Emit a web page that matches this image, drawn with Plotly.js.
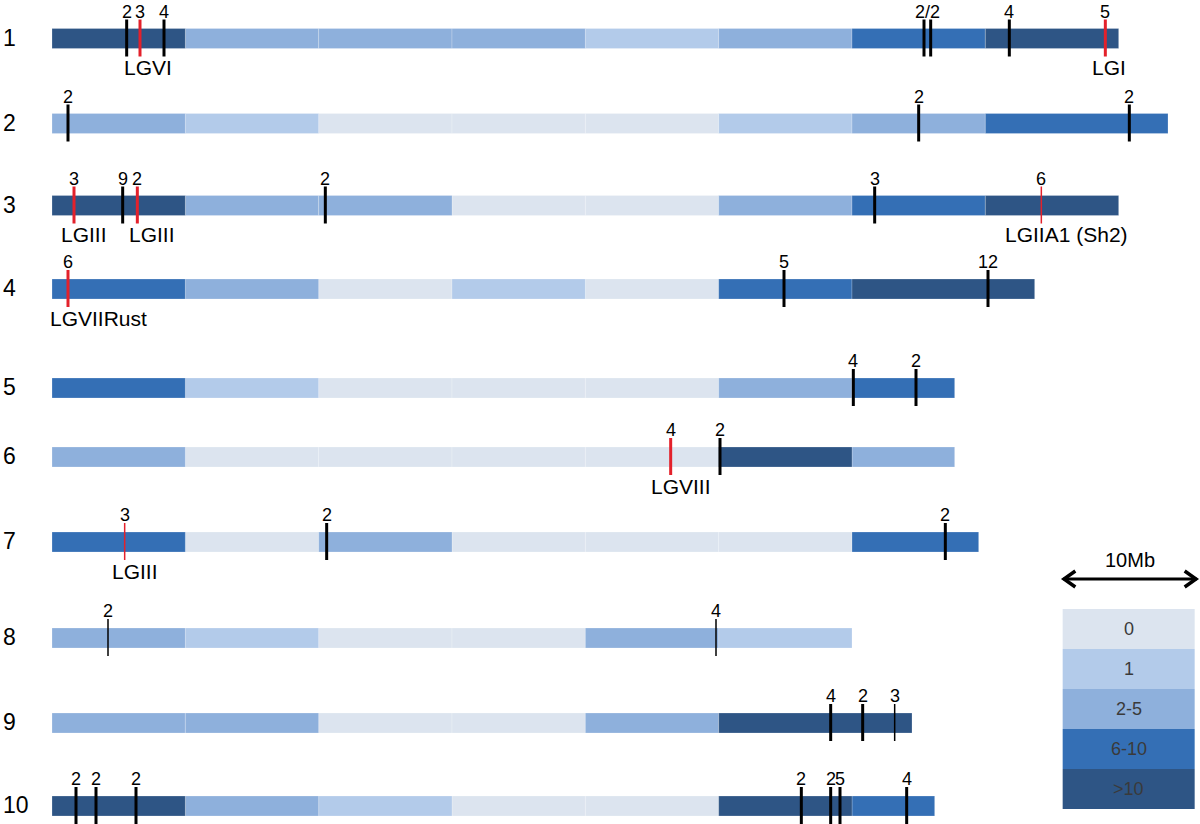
<!DOCTYPE html>
<html><head><meta charset="utf-8">
<script src="https://cdn.plot.ly/plotly-3.0.1.min.js"></script>
<style>body{margin:0;background:#fff}#chart{width:1200px;height:824px}</style>
</head><body><div id="chart"></div>
<script>
// ---------------- DATA ----------------
const chromosomes = ['1','2','3','4','5','6','7','8','9','10'];
const chrLengthMb = [80, 83.7, 80, 73.7, 67.7, 67.7, 69.5, 60, 64.5, 66.2];
const densityClasses = ['0','1','2-5','6-10','>10'];
// density class index of each 10-Mb bin (last bin runs to chromosome end)
const binClass = [
  [4,2,2,2,1,2,3,4],
  [2,1,0,0,0,1,2,3],
  [4,2,2,0,0,2,3,4],
  [3,2,0,1,0,3,4],
  [3,1,0,0,0,2,3],
  [2,0,0,0,0,4,2],
  [3,0,2,0,0,0,3],
  [2,1,0,0,2,1],
  [2,2,0,0,2,4],
  [4,2,1,0,0,4,3]
];
// marker positions (Mb) and kinds: k = black, r = red, kt = thin black, rt = thin red
const markerPos = [
  [5.6, 6.6, 8.4, 65.4, 65.9, 71.8, 79.0],
  [1.2, 65.0, 80.8],
  [1.65, 5.3, 6.4, 20.5, 61.7, 74.2],
  [1.2, 54.9, 70.2],
  [60.1, 64.8],
  [46.4, 50.1],
  [5.45, 20.6, 67.0],
  [4.2, 49.8],
  [58.4, 60.8, 63.2],
  [1.8, 3.3, 6.3, 56.2, 58.4, 59.1, 64.1]
];
const markerKind = [
  ['k','r','k','k','k','k','r'],
  ['k','k','k'],
  ['r','k','r','k','k','rt'],
  ['r','k','k'],
  ['k','k'],
  ['r','k'],
  ['rt','k','k'],
  ['kt','kt'],
  ['k','k','kt'],
  ['k','k','k','k','k','k','k']
];
// count labels above markers
const countPos = [
  [5.6, 6.6, 8.4, 65.65, 71.8, 79.0],
  [1.2, 65.0, 80.8],
  [1.65, 5.3, 6.4, 20.5, 61.7, 74.2],
  [1.2, 54.9, 70.2],
  [60.1, 64.8],
  [46.4, 50.1],
  [5.45, 20.6, 67.0],
  [4.2, 49.8],
  [58.4, 60.8, 63.2],
  [1.8, 3.3, 6.3, 56.2, 58.4, 59.1, 64.1]
];
const countText = [
  ['2','3','4','2/2','4','5'],
  ['2','2','2'],
  ['3','9','2','2','3','6'],
  ['6','5','12'],
  ['4','2'],
  ['4','2'],
  ['3','2','2'],
  ['2','4'],
  ['4','2','3'],
  ['2','2','2','2','2','5','4']
];
// linkage-group labels below markers
const lgChr  = [0, 0, 2, 2, 2, 3, 5, 6];
const lgPos  = [7.2, 79.3, 2.4, 7.5, 76.1, 3.5, 47.2, 6.2];
const lgName = ['LGVI','LGI','LGIII','LGIII','LGIIA1 (Sh2)','LGVIIRust','LGVIII','LGIII'];
const scaleBarMb = 10;

// ---------------- LAYOUT / STYLE ----------------
const rowY = [38.5, 123.5, 205.5, 289, 388, 457, 542, 638, 723, 806];
const BAR_H = 20;
const classColors = ['#dce4ef','#b3cbea','#8eb0dc','#346fb5','#2e5585'];
const kindStyle = {
  k:  {color:'#000000', width:3},
  r:  {color:'#e3212b', width:3},
  kt: {color:'#000000', width:1.5},
  rt: {color:'#e3212b', width:1.5}
};
const FONT = 'Liberation Sans, Arial, sans-serif';
const X0 = -3.9, X1 = 86.1;   // 13.33 px per Mb

const traces = [];
// chromosome bins
densityClasses.forEach((cls, ci) => {
  const y = [], base = [], len = [];
  binClass.forEach((bins, r) => {
    bins.forEach((c, b) => {
      if (c !== ci) return;
      const s = b * 10;
      const e = (b === bins.length - 1) ? chrLengthMb[r] : Math.min((b + 1) * 10, chrLengthMb[r]);
      y.push(rowY[r]); base.push(s); len.push(e - s);
    });
  });
  traces.push({
    type:'bar', orientation:'h', y:y, x:len, base:base, width:BAR_H,
    marker:{color:classColors[ci], line:{color:'rgba(255,255,255,0.22)', width:1}},
    hoverinfo:'skip', showlegend:false
  });
});
// marker lines
Object.keys(kindStyle).forEach(kind => {
  const xs = [], ys = [];
  markerPos.forEach((arr, r) => arr.forEach((p, i) => {
    if (markerKind[r][i] !== kind) return;
    xs.push(p, p, null); ys.push(rowY[r] - 19, rowY[r] + 18, null);
  }));
  if (!xs.length) return;
  traces.push({type:'scatter', mode:'lines', x:xs, y:ys,
    line:kindStyle[kind], hoverinfo:'skip', showlegend:false});
});

const annotations = [];
chromosomes.forEach((c, r) => {
  annotations.push({x:X0 + 0.1, y:rowY[r] - 1, xref:'x', yref:'y', text:c, showarrow:false,
    xanchor:'left', yanchor:'middle', font:{family:FONT, size:23, color:'#000'}});
  countPos[r].forEach((p, i) => {
    annotations.push({x:p, y:rowY[r] - 16, xref:'x', yref:'y', text:countText[r][i], showarrow:false,
      xanchor:'center', yanchor:'bottom', borderpad:0, font:{family:FONT, size:18, color:'#000'}});
  });
});
lgName.forEach((n, i) => {
  annotations.push({x:lgPos[i], y:rowY[lgChr[i]] + 29, xref:'x', yref:'y', text:n, showarrow:false,
    xanchor:'center', yanchor:'middle', font:{family:FONT, size:21, color:'#000'}});
});

// legend: scale bar
const sbL = 75.85, sbR = sbL + scaleBarMb, sbY = 579;
traces.push({type:'scatter', mode:'lines', x:[sbL, sbR], y:[sbY, sbY],
  line:{color:'#000', width:3}, hoverinfo:'skip', showlegend:false});
traces.push({type:'scatter', mode:'lines',
  x:[sbL + 0.9, sbL + 0.05, sbL + 0.9, null, sbR - 0.9, sbR - 0.05, sbR - 0.9],
  y:[sbY - 8, sbY, sbY + 8, null, sbY - 8, sbY, sbY + 8],
  line:{color:'#000', width:3.5}, hoverinfo:'skip', showlegend:false});
annotations.push({x:(sbL + sbR) / 2, y:sbY - 7, xref:'x', yref:'y', text:'10Mb', showarrow:false,
  xanchor:'center', yanchor:'bottom', borderpad:0, font:{family:FONT, size:20, color:'#000'}});

// legend: density classes
const shapes = [];
const lgL = 75.8, lgR = 85.7, lgTop = 609, lgH = 40;
densityClasses.forEach((cls, i) => {
  shapes.push({type:'rect', xref:'x', yref:'y', x0:lgL, x1:lgR, y0:lgTop + i * lgH, y1:lgTop + (i + 1) * lgH,
    fillcolor:classColors[i], line:{width:0}, layer:'below'});
  annotations.push({x:(lgL + lgR) / 2, y:lgTop + (i + 0.5) * lgH, xref:'x', yref:'y', text:cls.replace('>','&gt;'),
    showarrow:false, xanchor:'center', yanchor:'middle', font:{family:FONT, size:18, color:'#3a3a3a'}});
});

const layout = {
  width:1200, height:824, margin:{l:0, r:0, t:0, b:0},
  paper_bgcolor:'#fff', plot_bgcolor:'#fff', barmode:'overlay',
  xaxis:{range:[X0, X1], visible:false, fixedrange:true},
  yaxis:{range:[824, 0], visible:false, fixedrange:true},
  shapes:shapes, annotations:annotations, showlegend:false
};
Plotly.newPlot('chart', traces, layout, {displayModeBar:false, staticPlot:true});
</script></body></html>
